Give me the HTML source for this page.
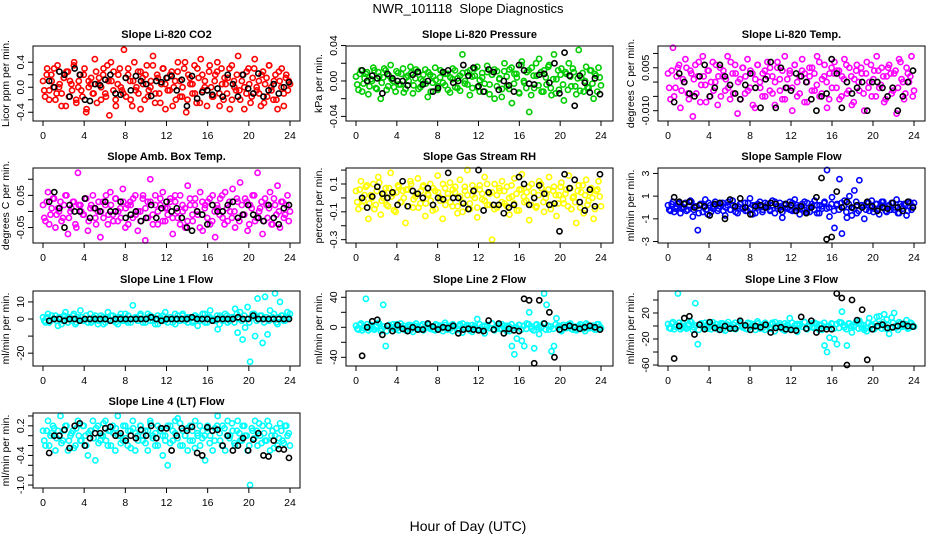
<!DOCTYPE html>
<html><head><meta charset="utf-8"><style>
body{margin:0;background:#fff}
svg{font-family:"Liberation Sans",sans-serif}
</style></head><body>
<svg id="c" width="936" height="540" viewBox="0 0 936 540" xmlns="http://www.w3.org/2000/svg">
<text x="468" y="13" text-anchor="middle" font-size="13" style="white-space:pre">NWR_101118  Slope Diagnostics</text>
<text x="468" y="531" text-anchor="middle" font-size="14">Hour of Day (UTC)</text>
</svg>
<script>
const xTicks=[0,4,8,12,16,20,24];
const co2Vals=[0.1,-0.15,0.3,-0.05,0.2,0.0,-0.2,0.35,0.05,-0.1,0.15,-0.3,0.25,0.1,-0.05,0.4,-0.2,0.0,0.2,-0.15,0.3,-0.35,0.1,0.05,-0.1,0.45,-0.25,0.15,0.0,0.2,-0.1,0.35,-0.45,0.1,0.25,-0.2,0.05,0.3,-0.05,0.6,-0.15,0.2,0.1,-0.3,0.4,0.0,-0.1,0.25,0.15,-0.2,0.35,-0.05,0.1,0.5,-0.25,0.2,-0.1,0.05,0.3,-0.35,0.15,-0.05,0.25,0.0,-0.2,0.4,0.1,-0.15,0.3,-0.4,0.2,0.05,-0.1,0.35,-0.25,0.15,0.45,-0.05,0.1,-0.3,0.25,0.0,-0.15,0.2,0.4,-0.1,0.3,-0.2,0.05,0.15,-0.35,0.35,0.1,-0.05,0.5,-0.2,0.2,0.0,-0.1,0.3,-0.25,0.15,0.45,-0.05,0.1,-0.3,0.25,0.05,-0.15,0.35,0.0,-0.2,0.2,-0.35,0.1,0.3,-0.1,0.15,-0.05,0.05];
const co2Vals2=[-0.05,0.2,-0.2,0.1,0.3,-0.1,0.0,-0.3,0.15,0.25,-0.15,0.05,0.35,-0.25,0.1,-0.05,0.2,-0.4,0.0,0.15,-0.1,0.25,0.05,-0.2,0.3,-0.15,0.1,0.4,-0.05,-0.3,0.2,0.0,-0.1,0.15,0.3,-0.2,0.1,-0.05,0.25,-0.35,0.05,0.2,-0.15,0.0,0.35,-0.1,0.15,-0.25,0.3,0.05,-0.05,0.2,-0.3,0.1,0.25,-0.15,0.0,0.4,-0.2,0.15,0.05,-0.1,0.3,-0.25,0.2,0.0,-0.05,0.35,-0.15,0.1,0.25,-0.3,0.05,0.15,-0.1,0.3,-0.2,0.0,0.2,-0.05,0.1,-0.35,0.25,0.05,-0.15,0.3,0.0,-0.1,0.2,-0.25,0.15,0.35,-0.05,0.1,-0.2,0.25,0.0,-0.3,0.2,0.1];
const co2Ref=[0.1,0.0,0.25,0.2,-0.15,0.3,0.2,-0.2,-0.22,0.05,0.03,0.12,0.2,-0.1,-0.12,0.15,-0.05,0.18,0.1,0.05,-0.14,0.1,0.08,0.15,0.18,-0.05,0.12,-0.3,0.18,-0.18,-0.08,-0.05,-0.12,-0.02,-0.15,0.2,0.05,-0.15,0.2,-0.02,-0.1,0.22,-0.15,-0.05,0.05,-0.1,0.0,0.08];
const presVals=[0.005,-0.01,0.012,-0.003,0.008,-0.015,0.002,0.015,-0.008,0.01,-0.02,0.004,0.012,-0.006,0.018,0.0,-0.012,0.009,-0.004,0.014,-0.009,0.006,0.016,-0.014,0.003,0.011,-0.007,0.0,0.013,-0.018,0.007,-0.002,0.015,-0.01,0.004,0.01,-0.005,0.008,-0.013,0.002,0.012,-0.008,0.006,0.03,-0.003,0.01,-0.016,0.005,0.014,-0.007,0.001,0.009,-0.012,0.017,-0.004,0.007,-0.02,0.011,0.003,-0.009,0.02,-0.006,0.013,-0.025,0.008,0.004,-0.014,0.022,-0.002,0.01,-0.035,0.015,-0.008,0.006,0.025,-0.012,0.012,-0.004,0.018,-0.016,0.03,0.002,-0.01,0.014,-0.022,0.008,0.02,-0.006,0.01,-0.015,0.035,0.004,-0.012,0.016,-0.008,0.012,-0.02,0.006,0.015,-0.005];
const presVals2=[-0.004,0.008,-0.012,0.003,0.01,-0.006,0.0,0.012,-0.009,0.005,-0.002,0.014,-0.01,0.006,0.002,-0.007,0.011,-0.004,0.008,-0.013,0.004,0.0,0.009,-0.005,0.013,-0.009,0.002,0.007,-0.003,0.01,-0.012,0.005,0.001,-0.006,0.012,-0.002,0.008,-0.01,0.004,0.014,-0.007,0.003,-0.011,0.009,0.0,-0.004,0.012,-0.008,0.006,0.016,-0.012,0.004,-0.003,0.01,-0.015,0.007,0.013,-0.006,0.002,-0.018,0.011,0.005,-0.009,0.015,-0.003,0.008,-0.013,0.018,0.0,-0.008,0.012,-0.016,0.006,0.02,-0.005,0.01,-0.012,0.004,0.016,-0.008,0.002,-0.014,0.012,0.007,-0.004,0.01,-0.01,0.005,0.014,-0.006,0.003,-0.011,0.009,0.0,-0.007,0.012,-0.003,0.008,-0.012,0.004];
const presRef=[0.012,0.0,0.006,0.003,-0.014,0.008,0.003,0.0,0.0,-0.005,0.007,0.01,-0.004,0.0,-0.012,-0.008,0.01,0.012,-0.002,0.0,0.018,0.006,0.015,-0.006,-0.012,0.013,0.01,-0.01,0.0,-0.005,-0.012,0.018,0.012,-0.003,-0.004,0.007,0.008,-0.002,0.02,-0.014,0.032,0.006,-0.028,0.006,-0.002,-0.013,0.003,-0.015];
const tempVals=[0.003,-0.006,0.012,-0.002,0.005,-0.009,0.001,0.008,-0.004,0.004,-0.012,0.006,0.002,-0.007,0.009,-0.001,0.004,-0.005,0.007,0.0,-0.008,0.005,0.002,-0.003,0.009,-0.006,0.003,0.006,-0.011,0.001,0.005,-0.004,0.008,-0.002,0.003,-0.009,0.006,0.0,-0.005,0.004,0.007,-0.003,0.002,-0.008,0.005,0.001,-0.006,0.009,-0.002,0.004,-0.01,0.006,0.0,-0.004,0.008,0.003,-0.007,0.002,0.005,-0.003,0.009,-0.005,0.001,0.006,-0.009,0.003,-0.002,0.007,0.004,-0.006,0.002,0.008,-0.004,0.005,-0.008,0.001,0.006,-0.003,0.003,-0.01,0.007,0.0,-0.005,0.004,0.009,-0.002,0.005,-0.007,0.002,0.006,-0.004,0.003,-0.011,0.008,0.001,-0.006,0.005,0.0,0.009,-0.003];
const tempVals2=[-0.002,0.004,-0.005,0.002,0.006,-0.003,0.0,0.005,-0.006,0.003,0.001,-0.004,0.007,-0.001,0.002,-0.007,0.004,0.0,-0.003,0.006,0.002,-0.005,0.004,0.001,-0.002,0.007,-0.004,0.003,0.0,-0.006,0.005,0.002,-0.003,0.004,-0.008,0.001,0.006,-0.002,0.003,-0.005,0.002,0.005,-0.004,0.0,0.007,-0.003,0.004,-0.006,0.001,0.003,-0.002,0.006,-0.005,0.002,0.004,-0.007,0.0,0.005,-0.003,0.003,-0.001,0.007,-0.004,0.002,0.0,-0.006,0.005,0.003,-0.002,0.004,-0.005,0.001,0.006,-0.003,0.002,-0.007,0.004,0.0,0.005,-0.004,0.003,-0.002,0.006,0.001,-0.005,0.004,-0.001,0.002,-0.006,0.005,0.003,-0.003,0.004,-0.002,0.007,0.0,-0.004,0.003,0.002,-0.005];
const tempRef=[-0.007,0.003,0.0,-0.004,-0.005,0.002,0.006,-0.005,-0.002,0.006,0.002,-0.001,-0.004,-0.006,-0.001,0.003,-0.002,-0.009,0.001,0.007,-0.009,0.005,-0.002,-0.003,0.003,0.002,0.0,-0.006,-0.01,-0.005,-0.004,0.008,0.003,-0.009,0.0,-0.004,-0.002,0.0,-0.01,0.0,0.0,-0.002,-0.005,-0.002,-0.01,-0.005,0.0,0.004];
const ambVals=[0.02,-0.03,0.06,-0.01,0.04,-0.05,0.01,0.03,-0.02,0.05,-0.07,0.0,0.03,-0.04,0.12,0.02,-0.01,0.04,-0.06,0.01,0.05,-0.02,0.0,-0.08,0.03,0.02,-0.04,0.06,-0.01,0.04,-0.03,0.01,0.07,-0.05,0.02,0.03,-0.02,0.05,-0.06,0.0,0.04,-0.09,0.03,0.1,-0.01,0.05,-0.04,0.02,0.06,-0.03,0.01,0.04,-0.07,0.03,-0.02,0.05,0.0,-0.05,0.08,0.02,-0.03,0.04,-0.01,0.06,-0.06,0.02,0.03,-0.04,0.05,-0.08,0.01,0.04,-0.02,0.06,-0.03,0.0,0.07,-0.05,0.03,0.09,-0.01,0.04,-0.06,0.02,0.05,-0.03,0.12,0.01,-0.07,0.04,-0.02,0.06,-0.04,0.02,0.08,-0.05,0.03,-0.01,0.05,0.0];
const ambVals2=[-0.02,0.03,-0.04,0.01,0.04,-0.01,0.0,-0.03,0.02,0.05,-0.02,0.01,0.03,-0.05,0.02,0.0,-0.01,0.04,-0.03,0.02,0.01,-0.04,0.03,0.0,-0.02,0.05,-0.01,0.02,-0.03,0.04,0.0,-0.02,0.03,0.01,-0.04,0.02,0.04,-0.01,0.0,-0.03,0.05,0.01,-0.02,0.03,-0.04,0.02,0.0,0.04,-0.03,0.01,-0.01,0.03,-0.02,0.05,0.0,-0.04,0.02,0.01,-0.03,0.04,-0.01,0.02,0.0,-0.05,0.03,0.01,-0.02,0.04,-0.03,0.0,0.02,-0.01,0.05,-0.04,0.01,0.03,-0.02,0.0,0.04,-0.03,0.02,-0.01,0.03,-0.04,0.01,0.05,-0.02,0.0,0.03,-0.03,0.02,0.01,-0.04,0.04,-0.01,0.0,0.03,-0.02,0.02,-0.03];
const ambRef=[0.03,0.06,0.01,-0.05,0.02,0.0,0.0,0.04,-0.02,0.01,0.0,0.03,0.0,0.0,0.03,-0.02,-0.01,0.0,-0.03,-0.02,0.02,-0.02,0.01,0.03,0.0,0.01,-0.02,-0.05,-0.06,0.0,-0.01,-0.04,0.02,0.0,0.0,0.02,0.03,-0.02,-0.01,0.02,-0.01,-0.02,-0.03,0.02,-0.02,-0.04,0.01,0.02];
const rhVals=[0.05,-0.08,0.12,-0.02,0.08,-0.15,0.02,0.1,-0.05,0.15,-0.12,0.0,0.07,-0.06,0.18,0.03,-0.1,0.09,-0.03,0.05,-0.18,0.06,0.12,-0.07,0.01,0.14,-0.04,0.08,-0.13,0.03,0.1,-0.09,0.05,0.16,-0.02,-0.15,0.07,0.0,0.11,-0.06,0.04,-0.11,0.13,-0.03,0.08,0.2,-0.08,0.02,0.06,-0.14,0.09,-0.01,0.15,-0.05,0.03,-0.3,0.1,-0.07,0.05,0.12,-0.04,0.08,-0.12,0.01,0.14,-0.09,0.06,0.17,-0.03,0.04,-0.16,0.1,0.0,-0.06,0.12,0.07,-0.1,0.03,0.15,-0.05,0.08,-0.13,0.02,0.11,-0.04,0.06,0.16,-0.08,0.01,-0.18,0.09,0.04,-0.11,0.13,-0.02,0.07,-0.15,0.05,0.12,-0.06];
const rhVals2=[-0.03,0.06,-0.06,0.02,0.09,-0.04,0.0,-0.08,0.05,0.11,-0.02,0.03,-0.05,0.07,0.01,-0.09,0.04,0.08,-0.03,0.0,0.06,-0.06,0.1,-0.01,0.03,-0.07,0.05,0.09,-0.04,0.02,-0.02,0.07,-0.08,0.04,0.0,0.1,-0.05,0.03,-0.03,0.06,0.08,-0.06,0.01,-0.1,0.05,0.02,-0.04,0.09,0.0,-0.07,0.06,0.03,-0.02,0.1,-0.05,0.04,-0.08,0.02,0.07,-0.03,0.05,-0.06,0.0,0.09,-0.04,0.03,-0.09,0.06,0.01,-0.02,0.08,-0.05,0.04,-0.07,0.02,0.1,-0.03,0.0,0.06,-0.08,0.05,0.02,-0.04,0.08,-0.01,0.03,-0.06,0.07,0.0,-0.03,0.05,-0.07,0.09,0.02,-0.05,0.04,0.0,-0.08,0.06,0.01];
const rhRef=[0.0,-0.07,0.01,0.08,0.03,0.0,0.04,-0.05,0.12,-0.06,0.05,0.03,0.0,0.07,-0.05,0.0,-0.01,0.18,0.0,0.0,-0.04,-0.08,0.05,0.2,-0.09,0.04,-0.05,-0.05,-0.11,-0.07,-0.05,0.15,0.1,-0.05,0.0,0.09,0.03,-0.05,-0.04,-0.24,0.17,0.07,0.13,-0.03,-0.09,0.06,-0.06,0.17];
const sfVals=[0.2,-0.3,0.5,-0.1,0.3,-0.5,0.0,0.4,-0.2,0.6,-0.8,0.1,-2.0,0.3,-0.4,0.7,-0.6,0.2,-0.1,0.5,-0.3,0.1,0.4,-0.7,0.2,-0.2,0.6,0.0,-0.5,0.3,-0.1,0.4,-0.3,0.8,-0.6,0.2,0.0,0.5,-0.4,0.1,0.3,-0.2,0.6,-0.5,0.1,0.4,-0.9,0.2,-0.1,0.5,-0.3,0.7,0.0,-0.6,0.3,-0.2,0.4,-0.4,0.1,0.6,-0.5,0.2,-0.1,0.5,3.3,-0.8,0.9,-1.8,0.3,2.5,-2.3,0.6,-0.9,1.0,-0.7,1.5,-0.5,2.4,0.2,-1.0,0.4,-0.3,0.6,-0.1,0.3,-0.6,0.5,0.0,-0.4,0.2,0.4,-0.2,0.7,-0.5,0.1,0.3,-0.7,0.5,-0.2,0.4];
const sfVals2=[-0.2,0.3,-0.4,0.1,0.4,-0.1,0.0,-0.3,0.2,0.5,-0.2,0.1,-0.5,0.3,0.0,-0.2,0.4,-0.4,0.1,0.2,-0.1,0.3,-0.3,0.0,0.5,-0.2,0.2,-0.4,0.1,0.3,0.0,-0.3,0.4,-0.1,0.2,-0.5,0.3,0.1,-0.2,0.4,0.0,-0.3,0.2,0.5,-0.1,0.1,-0.4,0.3,0.0,-0.2,0.4,-0.3,0.2,0.1,-0.1,0.5,-0.4,0.0,0.3,-0.2,0.2,-0.5,0.1,0.4,-0.1,0.0,0.3,-0.3,0.2,-0.2,0.4,0.1,-0.4,0.3,0.0,-0.1,0.5,-0.3,0.2,0.1,-0.2,0.4,0.0,-0.4,0.3,-0.1,0.2,0.5,-0.3,0.1,-0.2,0.4,0.0,-0.5,0.3,-0.1,0.2,-0.3,0.4,0.1];
const sfRef=[0.9,0.5,0.3,0.5,0.0,0.2,0.1,-0.7,0.3,0.4,-1.0,0.7,0.1,0.8,0.0,-0.6,0.1,0.2,0.0,0.4,0.3,-0.2,0.3,0.2,-0.3,0.1,-0.5,0.0,0.9,2.6,-2.8,-2.6,1.4,0.0,0.5,0.0,0.2,0.0,0.5,0.1,-0.3,0.0,-0.1,0.4,0.0,-0.3,0.5,0.0];
const l1Vals=[1,-2,3,-1,0,2,-4,1,-1,4,-2,0,2,-3,1,5,-1,0,-2,3,-1,2,-3,0,1,-2,4,-1,2,0,-3,1,-1,3,-2,0,8,1,-1,2,-2,0,3,-1,1,-3,2,0,-1,4,-2,1,0,-3,2,-1,3,0,-2,1,-1,2,-4,0,3,-2,1,5,-1,0,-6,2,-1,3,-2,0,1,6,-8,4,-12,-5,7,-25,3,-10,12,2,-14,13,-9,5,1,15,-3,10,2,-1,4,3];
const l1Vals2=[-1,1,-2,2,0,-1,1,-3,2,0,1,-1,3,-2,0,1,-1,2,0,-2,1,0,-1,2,-3,1,0,2,-1,-2,1,3,0,-1,2,-2,0,1,-1,3,0,-2,1,2,-1,0,-3,1,2,-1,0,1,-2,3,0,-1,2,-1,1,0,-2,2,1,-1,0,3,-2,1,0,-1,2,-3,1,0,2,-1,1,-2,3,0,-1,2,0,-2,1,3,-1,0,2,-2,1,-1,0,3,-2,1,2,-1,0,1];
const l1Ref=[-1,0,0,-1,0,0,-1,0,0,0,0,0,-1,0,0,0,0,0,0,0,1,0,-1,0,0,0,0,0,1,0,0,0,-1,0,0,0,0,1,0,0,2,0,0,0,0,0,0,0];
const l2Vals=[2,-3,5,-1,38,-4,3,-2,1,6,-5,30,-25,2,-1,4,-3,0,5,-2,-4,1,3,-6,2,0,-3,4,-1,5,-2,1,-4,3,0,-1,6,-3,2,-5,1,-2,4,-7,0,3,-1,-6,2,11,-4,1,-8,3,-1,5,-3,0,-2,4,-1,2,-5,-25,-36,-15,3,-18,-25,5,20,-2,-28,4,-9,1,45,30,-3,-32,-25,12,2,-5,3,-1,4,-2,0,-4,1,3,-2,5,-1,0,2,-3,4,-1];
const l2Vals2=[-2,3,-4,1,4,-1,0,-3,2,5,-2,1,-5,3,0,-2,4,-4,1,2,-1,3,-3,0,5,-2,2,-4,1,3,0,-3,4,-1,2,-5,3,1,-2,4,0,-3,2,5,-1,1,-4,3,0,-2,4,-3,2,1,-1,5,-4,0,3,-2,2,-5,1,4,-1,0,3,-3,2,-2,4,1,-4,3,0,-1,5,-3,2,1,-2,4,0,-4,3,-1,2,5,-3,1,-2,4,0,-5,3,-1,2,-3,4,1];
const l2Ref=[-38,0,8,10,-10,2,-5,3,-2,-5,0,-3,-3,5,1,-3,0,-1,2,-8,-3,-2,-3,-4,-5,9,-3,5,-8,-2,-4,-5,38,36,-48,36,5,20,-40,-3,0,2,0,-2,0,2,0,-3];
const l3Vals=[3,-4,6,-1,50,-5,4,-2,1,7,-6,35,-28,3,-1,5,-4,0,6,-2,-5,1,4,-7,2,0,-4,5,-1,6,-2,1,-5,4,0,-1,7,-4,2,-6,1,-2,5,-8,0,4,-1,-7,2,12,-5,1,-9,3,-1,6,-4,0,-2,5,-1,2,-6,-30,-40,-18,3,-20,-28,6,22,-2,-30,4,-10,1,5,8,-3,-6,-8,12,2,-5,14,15,-4,18,10,-12,13,20,-2,6,-1,0,9,-3,4,-1];
const l3Vals2=[-3,4,-5,1,5,-2,0,-4,3,6,-2,1,-6,4,0,-3,5,-5,1,3,-1,4,-4,0,6,-3,2,-5,1,4,0,-4,5,-1,3,-6,4,1,-3,5,0,-4,3,6,-1,1,-5,4,0,-3,5,-4,3,1,-1,6,-5,0,4,-3,3,-6,1,5,-1,0,4,-4,3,-3,5,1,-5,4,0,-1,6,-4,3,1,-3,5,0,-5,4,-1,3,6,-4,1,-3,5,0,-6,4,-1,3,-4,5,1];
const l3Ref=[-50,0,12,15,-13,2,-5,6,-3,-6,0,-4,-4,8,1,-6,0,-2,2,-10,-3,-2,-5,-6,-7,14,-4,8,-10,-4,-5,-5,50,43,-60,40,9,25,-52,-5,0,2,-3,-2,0,3,0,-1];
const l4Vals=[0.1,-0.2,0.3,0.0,0.2,-0.3,0.1,0.4,-0.1,0.2,-0.3,0.0,0.1,-0.2,0.3,-0.1,0.2,0.0,-0.4,0.1,0.3,-0.5,0.2,-0.1,0.0,0.3,-0.2,0.1,0.2,-0.3,0.4,0.0,-0.1,0.2,-0.2,0.1,0.3,-0.3,0.0,0.2,-0.1,0.1,-0.3,0.3,0.0,-0.2,0.2,0.1,-0.4,0.0,-0.6,0.2,-0.1,0.3,0.35,-0.2,0.1,0.0,-0.3,0.2,-0.1,0.3,0.0,-0.2,0.1,-0.5,0.2,0.0,-0.3,0.15,0.4,-0.1,0.2,-0.3,0.3,0.0,0.1,-0.2,0.3,-0.1,0.2,0.0,-0.3,-1.0,0.1,0.3,-0.2,0.0,0.2,-0.1,0.3,-0.3,0.1,0.0,-0.2,0.25,-0.1,0.2,0.0,-0.2];
const l4Vals2=[-0.1,0.1,-0.2,0.05,0.15,-0.05,0.0,-0.15,0.1,0.2,-0.1,0.05,-0.25,0.15,0.0,-0.1,0.2,-0.2,0.05,0.1,-0.05,0.15,-0.15,0.0,0.25,-0.1,0.1,-0.2,0.05,0.15,0.0,-0.15,0.2,-0.05,0.1,-0.25,0.15,0.05,-0.1,0.2,0.0,-0.15,0.1,0.25,-0.05,0.05,-0.2,0.15,0.0,-0.1,0.2,-0.15,0.1,0.05,-0.05,0.25,-0.2,0.0,0.15,-0.1,0.1,-0.25,0.05,0.2,-0.05,0.0,0.15,-0.15,0.1,-0.1,0.2,0.05,-0.2,0.15,0.0,-0.05,0.25,-0.15,0.1,0.05,-0.1,0.2,0.0,-0.2,0.15,-0.05,0.1,0.25,-0.15,0.05,-0.1,0.2,0.0,-0.25,0.15,-0.05,0.1,-0.15,0.2,0.05];
const l4Ref=[-0.35,0.0,0.0,0.12,-0.25,0.2,0.25,-0.2,-0.05,0.05,0.05,0.15,0.18,0.0,0.05,-0.1,0.0,-0.05,0.12,0.0,0.2,-0.05,0.15,0.15,-0.3,0.0,0.15,0.1,0.18,-0.35,-0.4,0.17,0.1,0.12,-0.2,0.0,-0.3,-0.2,-0.05,-0.3,-0.08,0.05,-0.4,-0.42,-0.1,-0.27,-0.28,-0.45];
const co2Ticks=[0.4,0.2,0,-0.2,-0.4], co2Labels=["0.4","","0.0","","-0.4"];
const presTicks=[0.04,0.02,0,-0.02,-0.04], presLabels=["0.04","","0.00","","-0.04"];
const tempTicks=[0.01,0.005,0,-0.005,-0.01], tempLabels=["","0.005","","","-0.010"];
const ambTicks=[0.1,0.05,0,-0.05], ambLabels=["","0.05","","-0.05"];
const rhTicks=[0.2,0.1,0,-0.1,-0.2,-0.3], rhLabels=["","0.1","","-0.1","","-0.3"];
const sfTicks=[3,1,-1,-3], sfLabels=["3","1","-1","-3"];
const l1Ticks=[10,0,-10,-20], l1Labels=["10","0","","-20"];
const l2Ticks=[40,20,0,-20,-40], l2Labels=["40","","0","","-40"];
const l3Ticks=[40,20,0,-20,-40,-60], l3Labels=["","20","","-20","","-60"];
const l4Ticks=[0.4,0.2,0,-0.2,-0.4,-0.6,-0.8,-1.0], l4Labels=["","0.2","","","-0.4","","","-1.0"];

const NS="http://www.w3.org/2000/svg";
const svg=document.getElementById('c');
function mk(tag,attrs,parent){const e=document.createElementNS(NS,tag);for(const k in attrs)e.setAttribute(k,attrs[k]);(parent||svg).appendChild(e);return e;}
const colL=[33,346,658], col0=[43,356,668], col24=[290,601,914], rowT=[46,168,291,413], H=75;
const panels=[
 {slug:'co2',title:'Slope Li-820 CO2',yl:'Licor ppm per min.',r:0,c:0,lim:[0.66,-0.54],v:co2Vals,v2:co2Vals2,b:co2Ref,t:co2Ticks,tl:co2Labels,col:'#ff0000'},
 {slug:'pressure',title:'Slope Li-820 Pressure',yl:'kPa per min.',r:0,c:1,lim:[0.0395,-0.0452],v:presVals,v2:presVals2,b:presRef,t:presTicks,tl:presLabels,col:'#00cd00'},
 {slug:'li820-temp',title:'Slope Li-820 Temp.',yl:'degrees C per min.',r:0,c:2,lim:[0.0126,-0.0136],v:tempVals,v2:tempVals2,b:tempRef,t:tempTicks,tl:tempLabels,col:'#ff00ff'},
 {slug:'amb-box-temp',title:'Slope Amb. Box Temp.',yl:'degrees C per min.',r:1,c:0,lim:[0.135,-0.098],v:ambVals,v2:ambVals2,b:ambRef,t:ambTicks,tl:ambLabels,col:'#ff00ff'},
 {slug:'gas-stream-rh',title:'Slope Gas Stream RH',yl:'percent per min.',r:1,c:1,lim:[0.215,-0.324],v:rhVals,v2:rhVals2,b:rhRef,t:rhTicks,tl:rhLabels,col:'#ffff00'},
 {slug:'sample-flow',title:'Slope Sample Flow',yl:'ml/min per min.',r:1,c:2,lim:[3.48,-3.13],v:sfVals,v2:sfVals2,b:sfRef,t:sfTicks,tl:sfLabels,col:'#0000ff'},
 {slug:'line1-flow',title:'Slope Line 1 Flow',yl:'ml/min per min.',r:2,c:0,lim:[16.4,-27.5],v:l1Vals,v2:l1Vals2,b:l1Ref,t:l1Ticks,tl:l1Labels,col:'#00ffff'},
 {slug:'line2-flow',title:'Slope Line 2 Flow',yl:'ml/min per min.',r:2,c:1,lim:[48.4,-51.6],v:l2Vals,v2:l2Vals2,b:l2Ref,t:l2Ticks,tl:l2Labels,col:'#00ffff'},
 {slug:'line3-flow',title:'Slope Line 3 Flow',yl:'ml/min per min.',r:2,c:2,lim:[53.8,-61.5],v:l3Vals,v2:l3Vals2,b:l3Ref,t:l3Ticks,tl:l3Labels,col:'#00ffff'},
 {slug:'line4-flow',title:'Slope Line 4 (LT) Flow',yl:'ml/min per min.',r:3,c:0,lim:[0.46,-1.06],v:l4Vals,v2:l4Vals2,b:l4Ref,t:l4Ticks,tl:l4Labels,col:'#00ffff'}
];
panels.forEach(p=>{
 const L=colL[p.c], T=rowT[p.r], R=L+267, B=T+H;
 const g=mk('g',{});
 
 
 const xs=h=>col0[p.c]+(col24[p.c]-col0[p.c])*h/24;
 const ys=v=>T+(p.lim[0]-v)/(p.lim[0]-p.lim[1])*H;
 const tt=mk('text',{x:(L+R)/2,y:T-8,'text-anchor':'middle','font-size':11,'font-weight':'bold'},g);
 tt.textContent=p.title;
 
 
 const yl=mk('text',{transform:`translate(${L-24},${(T+B)/2}) rotate(-90)`,'text-anchor':'middle','font-size':10.5},g);
 yl.textContent=p.yl;
 
 
 const pts=mk('g',{fill:'none',stroke:p.col,'stroke-width':1.6},g);
 
 
 const n=p.v.length;
 p.v.forEach((v,i)=>{const c=mk('circle',{cx:xs(i*24/(n-1)),cy:ys(v),r:2.6},pts);
  
  });
 const n2=p.v2.length;
 p.v2.forEach((v,i)=>{const c=mk('circle',{cx:xs(0.12+i*23.76/(n2-1)),cy:ys(v),r:2.6},pts);
  
  });
 const bp=mk('g',{fill:'none',stroke:'#000','stroke-width':1.6},g);
 
 
 const m=p.b.length;
 p.b.forEach((v,i)=>{const c=mk('circle',{cx:xs(0.6+i*23.3/(m-1)),cy:ys(v),r:2.6},bp);
  
  });
 const box=mk('rect',{x:L,y:T,width:R-L,height:H,fill:'none',stroke:'#000','stroke-width':1},g);
 
 
 const xa=mk('g',{stroke:'#000','stroke-width':1},g);
 
 
 mk('line',{x1:xs(0),x2:xs(24),y1:B,y2:B},xa);
 xTicks.forEach(h=>{mk('line',{x1:xs(h),x2:xs(h),y1:B,y2:B+5},xa);
  const t=mk('text',{x:xs(h),y:B+18,'text-anchor':'middle','font-size':10.5,stroke:'none'},xa);t.textContent=h;
  
  });
 const ya=mk('g',{stroke:'#000','stroke-width':1},g);
 
 
 mk('line',{x1:L,x2:L,y1:ys(p.t[0]),y2:ys(p.t[p.t.length-1])},ya);
 p.t.forEach((v,i)=>{mk('line',{x1:L-5,x2:L,y1:ys(v),y2:ys(v)},ya);
  if(p.tl[i]){const t=mk('text',{transform:`translate(${L-9},${ys(v)}) rotate(-90)`,'text-anchor':'middle','font-size':10.5,stroke:'none'},ya);t.textContent=p.tl[i];
  
  }});
});
</script>
</body></html>
